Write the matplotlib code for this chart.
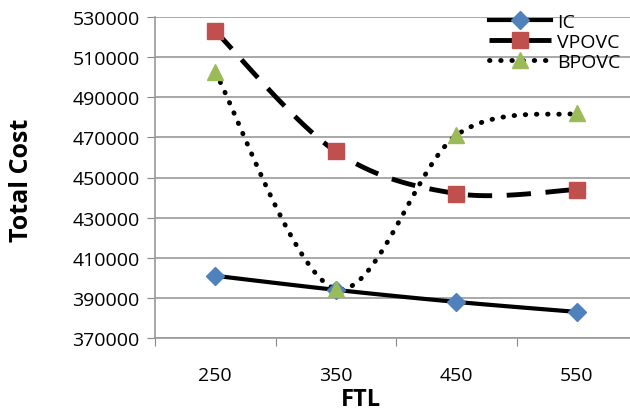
import numpy as np
import matplotlib
matplotlib.use("Agg")
import matplotlib.pyplot as plt
from matplotlib.lines import Line2D

categories = ["250", "350", "450", "550"]
ic = [401000, 394000, 388000, 383000]
vpovc = [523000, 463000, 442000, 444000]
bpovc = [502500, 394500, 471000, 482000]
yticks = [370000, 390000, 410000, 430000, 450000, 470000, 490000, 510000, 530000]


def smooth(xs, ys, n=40):
    # Excel-style smoothed line (cardinal Bezier segments)
    xs = np.asarray(xs, float); ys = np.asarray(ys, float)
    px, py = [], []
    m = len(xs)
    t = np.linspace(0, 1, n)
    for i in range(m - 1):
        x0, y0 = xs[max(i - 1, 0)], ys[max(i - 1, 0)]
        x1, y1 = xs[i], ys[i]
        x2, y2 = xs[i + 1], ys[i + 1]
        x3, y3 = xs[min(i + 2, m - 1)], ys[min(i + 2, m - 1)]
        c1x, c1y = x1 + (x2 - x0) / 6, y1 + (y2 - y0) / 6
        c2x, c2y = x2 - (x3 - x1) / 6, y2 - (y3 - y1) / 6
        bx = (1 - t) ** 3 * x1 + 3 * (1 - t) ** 2 * t * c1x + 3 * (1 - t) * t ** 2 * c2x + t ** 3 * x2
        by = (1 - t) ** 3 * y1 + 3 * (1 - t) ** 2 * t * c1y + 3 * (1 - t) * t ** 2 * c2y + t ** 3 * y2
        px.extend(bx); py.extend(by)
    return px, py


plt.rcParams['font.family'] = ['Open Sans', 'DejaVu Sans']
fig = plt.figure(figsize=(6.3, 4.14), dpi=100)
ax = fig.add_axes([155 / 630, 1 - 339 / 414, (637 - 155) / 630, (339 - 18) / 414])

x = np.arange(1, len(categories) + 1)

px, py = smooth(x, ic)
ax.plot(px, py, color='black', lw=3, solid_capstyle='butt', zorder=3)
ax.plot(x, ic, ls='none', marker='D', ms=9, color='#4F81BD', zorder=4)

px, py = smooth(x, vpovc)
ax.plot(px, py, color='black', lw=3.5, dashes=(5, 3), zorder=3)
ax.plot(x, vpovc, ls='none', marker='s', ms=11, color='#C0504D', zorder=4)

px, py = smooth(x, bpovc)
ax.plot(px, py, color='black', lw=3.5, dashes=(0.1, 2.2), dash_capstyle='round', zorder=3)
ax.plot(x, bpovc, ls='none', marker='^', ms=12, color='#9BBB59', zorder=4)

ax.set_xlim(0.5, 4.5)
ax.set_ylim(370000, 530000)
ax.set_yticks(yticks)
ax.set_yticklabels([str(v) for v in yticks], fontsize=14)
ax.set_xticks(np.arange(0.5, 4.6, 1.0))
ax.set_xticklabels([])
ax.set_xticks(x, minor=True)
ax.set_xticklabels(categories, minor=True, fontsize=14)
ax.tick_params(axis='x', which='minor', length=0, pad=20)
ax.tick_params(axis='x', which='major', length=6, color='#888888', direction='out')
ax.tick_params(axis='y', length=6, color='#888888', direction='out', pad=5)
ax.grid(axis='y', color='#999999', lw=1.2)
ax.set_axisbelow(True)
for s in ['top', 'right']:
    ax.spines[s].set_visible(False)
for s in ['left', 'bottom']:
    ax.spines[s].set_color('#999999')
    ax.spines[s].set_linewidth(1.2)

fig.text(361 / 630, 1 - 400 / 414, 'FTL', fontsize=17, fontweight='bold', ha='center', va='center')
fig.text(22 / 630, 1 - 180 / 414, 'Total Cost', fontsize=18, fontweight='bold', ha='center', va='center',
         rotation=90)

handles = [
    Line2D([], [], color='black', lw=3, marker='D', ms=9, markerfacecolor='#4F81BD', markeredgecolor='#4F81BD'),
    Line2D([], [], color='black', lw=3.5, dashes=(5, 3), marker='s', ms=11, markerfacecolor='#C0504D', markeredgecolor='#C0504D'),
    Line2D([], [], color='black', lw=3.5, dashes=(0.1, 2.2), dash_capstyle='round', marker='^', ms=12, markerfacecolor='#9BBB59', markeredgecolor='#9BBB59'),
]
fig.legend(handles, ['IC', 'VPOVC', 'BPOVC'], loc='upper left', bbox_to_anchor=(489 / 630, 1 - 14 / 414),
           frameon=False, fontsize=14, handlelength=3.2, handletextpad=0.3, labelspacing=0.1,
           borderaxespad=0, borderpad=0)

fig.savefig('out.png', dpi=100)
